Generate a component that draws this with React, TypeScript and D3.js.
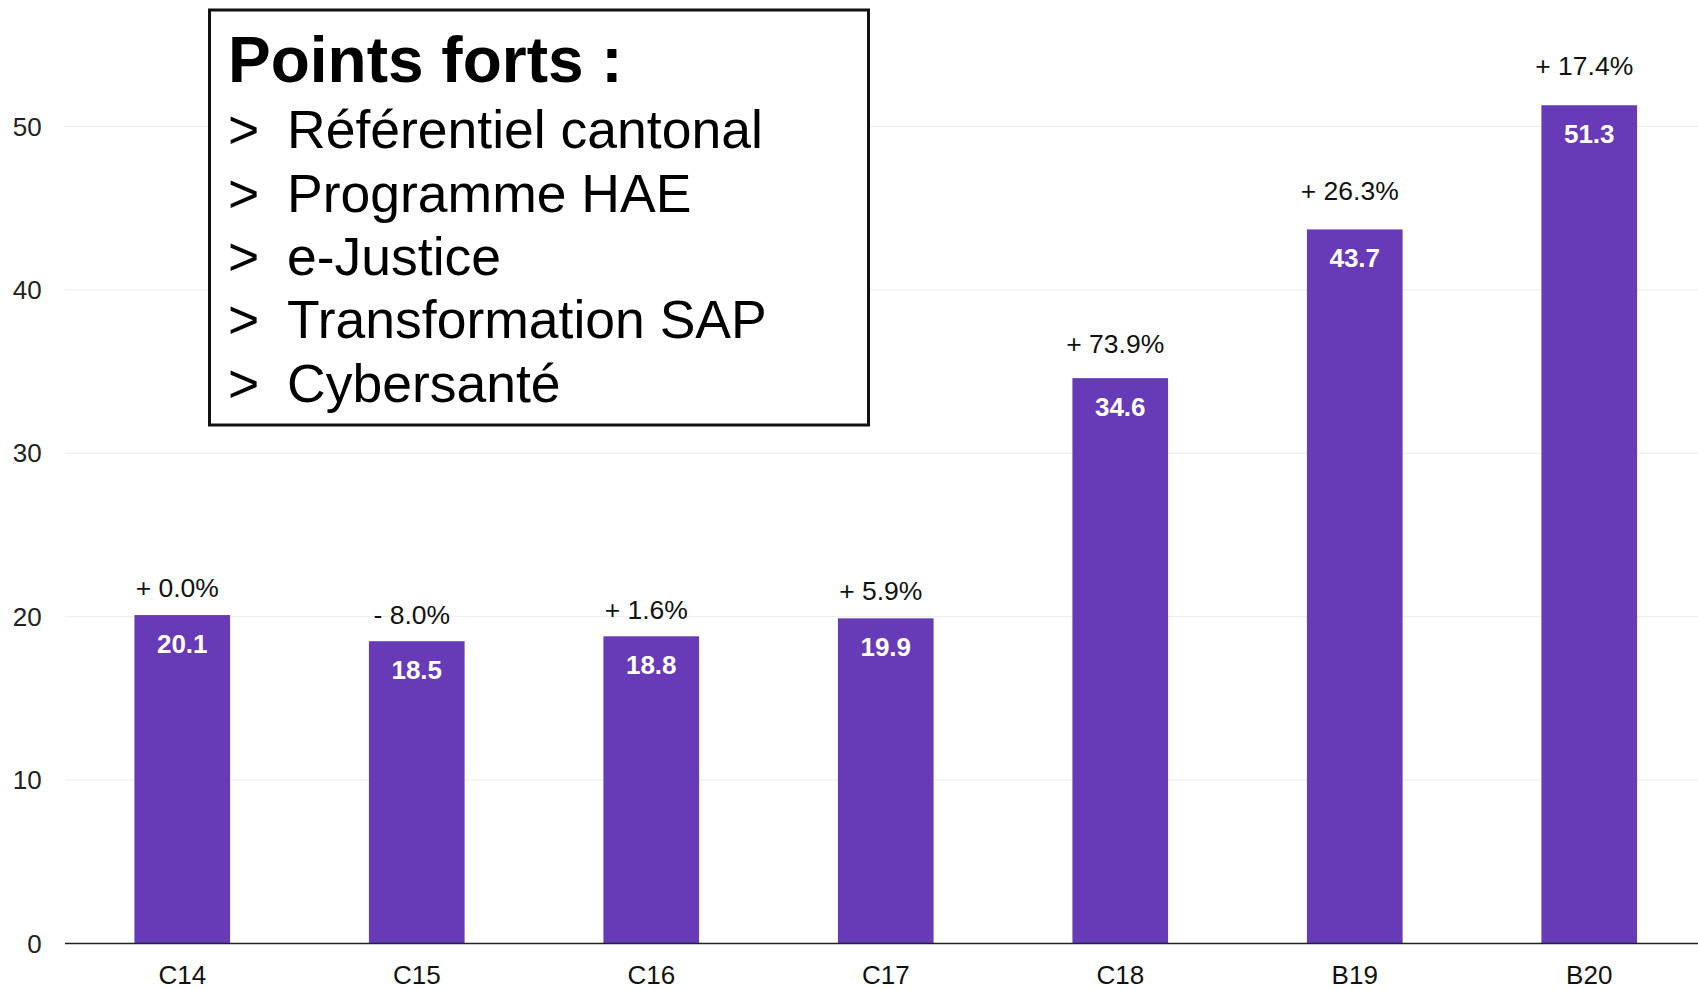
import * as d3 from 'd3';

const categories = ['C14', 'C15', 'C16', 'C17', 'C18', 'B19', 'B20'];
const values = [20.1, 18.5, 18.8, 19.9, 34.6, 43.7, 51.3];
const changes = ['+ 0.0%', '- 8.0%', '+ 1.6%', '+ 5.9%', '+ 73.9%', '+ 26.3%', '+ 17.4%'];
const yTicks = [0, 10, 20, 30, 40, 50];
const boxTitle = 'Points forts :';
const highlights = ['Référentiel cantonal', 'Programme HAE', 'e-Justice', 'Transformation SAP', 'Cybersanté'];

const W = 1698;
const H = 989;
const FONT = '"Liberation Sans", Arial, Helvetica, sans-serif';
const PURPLE = '#673ab7';

export default function App() {
  const x = d3.scaleBand<string>()
    .domain(categories)
    .range([65, 1706.5])
    .paddingInner(0.592)
    .paddingOuter(0.296);
  const y = d3.scaleLinear().domain([0, 50]).range([943.5, 126.5]);
  // gap between bar top and the % label grows a little with the bar height
  const gap = d3.scaleLinear().domain([18, 44]).range([17, 30]).clamp(true);

  const bars = categories.map((c, i) => ({ c, v: values[i], ch: changes[i] }));

  return (
    <svg width={W} height={H} style={{ position: 'absolute', left: 0, top: 0, background: '#fff' }}
      fontFamily={FONT}>
      {/* grid + y labels */}
      {yTicks.map(t => (
        <g key={t}>
          {t > 0 && (
            <line x1={65} x2={W} y1={y(t)} y2={y(t)} stroke="#ececec" strokeWidth={1} />
          )}
          <text x={41.7} y={y(t)} dy="0.35em" textAnchor="end" fontSize={26} fill="#222">{t}</text>
        </g>
      ))}

      {/* bars */}
      {bars.map(d => {
        const bx = x(d.c)!;
        const cx = bx + x.bandwidth() / 2;
        return (
          <g key={d.c}>
            <rect x={bx} y={y(d.v)} width={x.bandwidth()} height={y(0) - y(d.v)} fill={PURPLE} />
            <text x={cx} y={y(d.v) + 38} textAnchor="middle" fontSize={26} fontWeight="bold" fill="#fff">
              {d.v.toFixed(1)}
            </text>
            <text x={cx - 5} y={y(d.v) - gap(d.v)} textAnchor="middle" fontSize={26.5} fill="#111">
              {d.ch}
            </text>
            <text x={cx} y={983.6} textAnchor="middle" fontSize={26} fill="#111">{d.c}</text>
          </g>
        );
      })}

      {/* x axis baseline */}
      <line x1={65} x2={W} y1={y(0)} y2={y(0)} stroke="#222" strokeWidth={1.5} />

      {/* highlights box */}
      <rect x={209.5} y={10} width={659} height={415} fill="#fff" stroke="#111" strokeWidth={3} />
      <text x={228} y={81.7} fontSize={64} fontWeight="bold" fill="#000">{boxTitle}</text>
      {highlights.map((h, i) => (
        <g key={h} fontSize={53.5} fill="#000">
          <text x={228} y={148.3 + i * 63.35}>&gt;</text>
          <text x={287} y={148.3 + i * 63.35}>{h}</text>
        </g>
      ))}
    </svg>
  );
}
